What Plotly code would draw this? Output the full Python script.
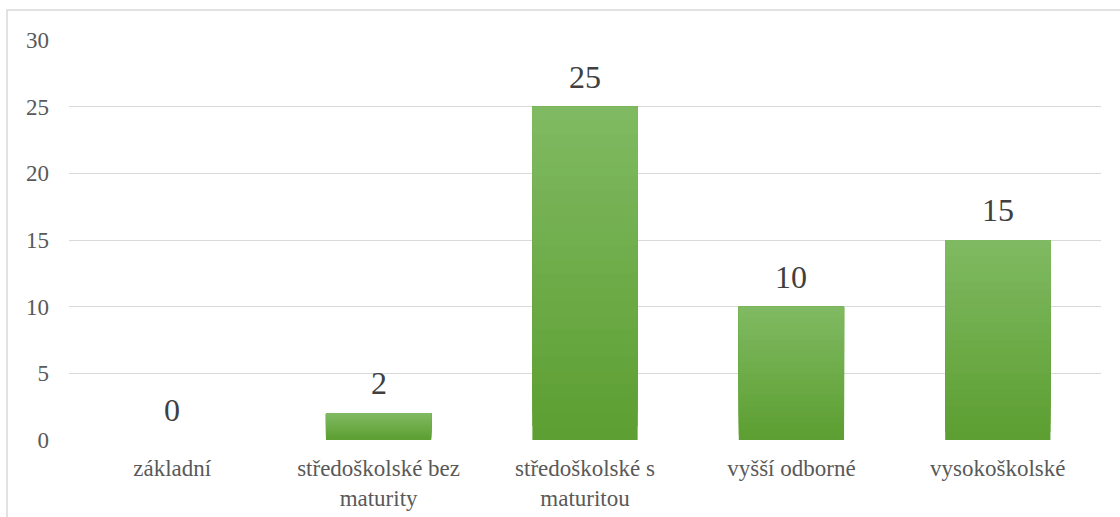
import plotly.graph_objects as go

categories = ["základní", "středoškolské bez<br>maturity", "středoškolské s<br>maturitou", "vyšší odborné", "vysokoškolské"]
values = [0, 2, 25, 10, 15]
y_ticks = [0, 5, 10, 15, 20, 25, 30]

top_rgb = (0x80, 0xBA, 0x62)
bot_rgb = (0x5C, 0x9E, 0x31)
N = 24
FONT = "Liberation Serif"

fig = go.Figure()
for k in range(N):
    t = (k + 0.5) / N
    c = tuple(round(b + (a - b) * t) for a, b in zip(top_rgb, bot_rgb))
    fig.add_trace(go.Bar(
        x=categories,
        y=[v * (N - k) / N for v in values],
        base=[v * k / N for v in values],
        marker=dict(color="rgb(%d,%d,%d)" % c, line=dict(width=0)),
        hoverinfo="skip",
        showlegend=False,
    ))

for cat, v in zip(categories, values):
    fig.add_annotation(x=cat, y=v, text=str(v), showarrow=False, yanchor="bottom",
                       yshift=10, font=dict(family=FONT, size=32, color="#404040"))

fig.add_shape(type="rect", xref="paper", yref="paper", x0=-0.0601, x1=1.05, y0=-0.3, y1=1.075,
              line=dict(color="#d9d9d9", width=1.5), layer="below")

fig.update_layout(
    width=1120, height=517,
    margin=dict(l=69, r=19, t=40, b=77),
    barmode="overlay", bargap=0.49,
    plot_bgcolor="white", paper_bgcolor="white",
    font=dict(family=FONT, size=23, color="#595959"),
    xaxis=dict(showgrid=False, showline=False, ticks="", automargin=False,
               tickfont=dict(family=FONT, size=23, color="#595959"), ticklabelstandoff=12),
    yaxis=dict(range=[0, 30], tickvals=y_ticks, showgrid=True, gridcolor="#d9d9d9", gridwidth=1.3,
               zeroline=False, showline=False, ticks="", ticklabelstandoff=19, automargin=False,
               tickfont=dict(family=FONT, size=23, color="#595959")),
)

fig.write_html("out.html", config={"displayModeBar": False},
               post_script="document.body.style.margin='0';")
